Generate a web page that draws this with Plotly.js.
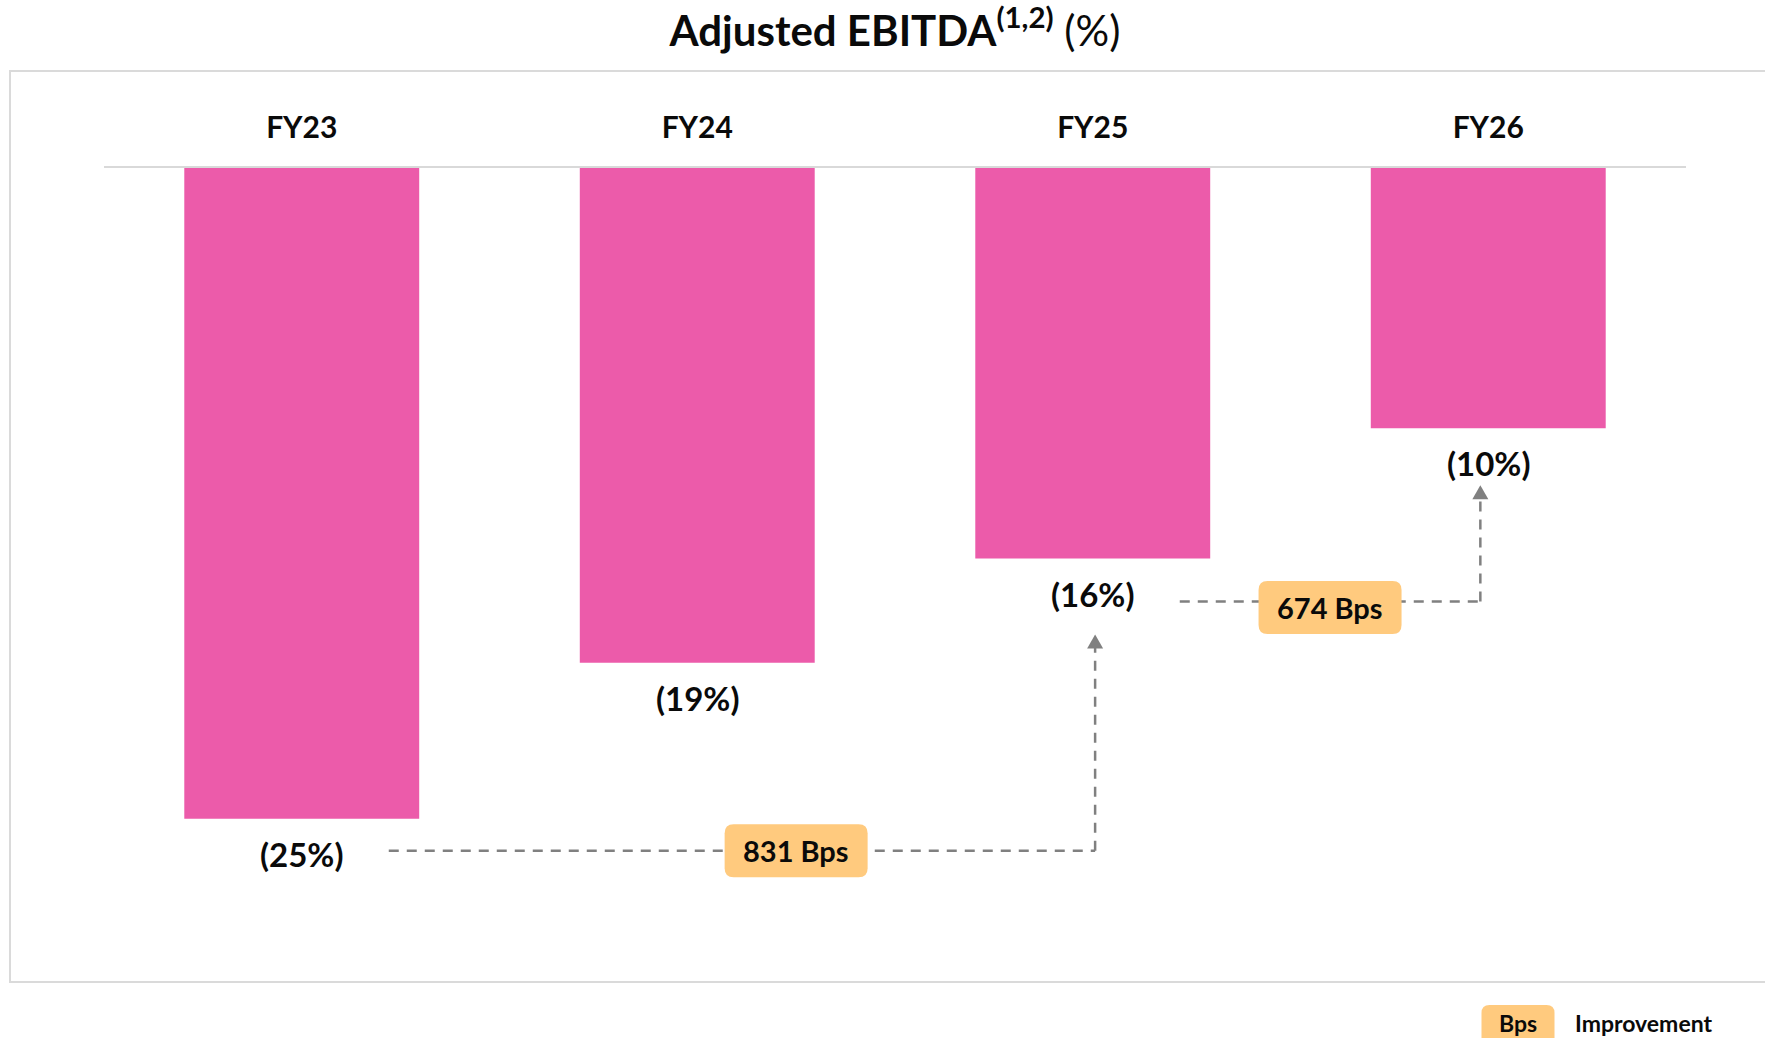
<!DOCTYPE html>
<html><head><meta charset="utf-8">
<script src="https://cdn.plot.ly/plotly-3.0.1.min.js"></script>
<style>html,body{margin:0;padding:0;background:#fff;}#chart{width:1765px;height:1038px;}</style>
</head><body><div id="chart"></div>
<script>
// ---- data ----
const categories = ['FY23', 'FY24', 'FY25', 'FY26'];
const marginValues = [-25.0, -19.0, -15.0, -10.0];
const valueLabels = ['(25%)', '(19%)', '(16%)', '(10%)'];
const improvementFrom = [0, 2];
const improvementTo = [2, 3];
const improvementBps = [831, 674];
const legendKey = 'Bps';
const legendText = 'Improvement';
const chartTitle = '<b>Adjusted EBITDA<sup>(1,2)</sup></b> (%)';

// ---- layout geometry / styles ----
const W = 1765, H = 1038, ML = 104, MR = 79, MT = 168, MB = 89;
const plotW = W - ML - MR, plotH = H - MT - MB;
const yMin = -30, yMax = 0;
const ppu = plotH / (yMax - yMin);
const pxToY = p => p / ppu;
const paperX = px => (px - ML) / plotW;
const paperY = py => (H - MB - py) / plotH;

const FONT = 'Lato, "Open Sans", sans-serif';
const BAR_COLOR = '#EC5BAA';
const DASH_COLOR = '#808080';
const BOX_COLOR = '#FFCA7E';
const TEXT_COLOR = '#0a0a0a';

// connector styling (pixel offsets relative to data points)
const connStyle = [
  {hOffsetPx: 32, xStart: 0.22, xEndDx: 0.006, tipPx: 76, boxDx: 1.25, boxDyPx: 0},
  {hOffsetPx: 43, xStart: 0.22, xEndDx: -0.02, tipPx: 57, boxDx: 0.6, boxDyPx: -6}
];

function roundRect(w, h, r, cx, cy) {
  const l = cx - w / 2, rr = cx + w / 2, b = cy - h / 2, t = cy + h / 2;
  return `M ${l + r},${b} L ${rr - r},${b} Q ${rr},${b} ${rr},${b + r} L ${rr},${t - r} Q ${rr},${t} ${rr - r},${t} ` +
         `L ${l + r},${t} Q ${l},${t} ${l},${t - r} L ${l},${b + r} Q ${l},${b} ${l + r},${b} Z`;
}

const shapes = [];
const annotations = [];

// outer frame
shapes.push({
  type: 'rect', xref: 'paper', yref: 'paper', layer: 'below',
  x0: paperX(10), x1: paperX(1800), y0: paperY(982), y1: paperY(71),
  line: {color: '#dadada', width: 2}, fillcolor: 'rgba(0,0,0,0)'
});

// value labels under bars
categories.forEach((c, i) => {
  annotations.push({
    x: c, y: marginValues[i], xref: 'x', yref: 'y',
    text: valueLabels[i], showarrow: false, yanchor: 'middle', yshift: -35,
    font: {family: FONT, size: 33, color: TEXT_COLOR, weight: 'bold'}
  });
});

// improvement connectors
improvementFrom.forEach((f, k) => {
  const t = improvementTo[k];
  const st = connStyle[k];
  const xe = t + st.xEndDx;
  const hy = marginValues[f] - pxToY(st.hOffsetPx);
  const tipY = marginValues[t] - pxToY(st.tipPx);
  shapes.push({type: 'line', xref: 'x', yref: 'y', x0: f + st.xStart, x1: xe, y0: hy, y1: hy,
    line: {color: DASH_COLOR, width: 2.5, dash: '10px,8px'}});
  shapes.push({type: 'line', xref: 'x', yref: 'y', x0: xe, x1: xe, y0: hy, y1: tipY - pxToY(12),
    line: {color: DASH_COLOR, width: 2.5, dash: '10px,8px'}});
  shapes.push({type: 'path', xref: 'x', yref: 'y', xsizemode: 'pixel', ysizemode: 'pixel',
    xanchor: xe, yanchor: tipY, path: 'M -8,-14 L 8,-14 L 0,0 Z',
    fillcolor: DASH_COLOR, line: {width: 0}});
  shapes.push({type: 'path', xref: 'x', yref: 'y', xsizemode: 'pixel', ysizemode: 'pixel',
    xanchor: f + st.boxDx, yanchor: hy, path: roundRect(143, 53, 9, 0, st.boxDyPx),
    fillcolor: BOX_COLOR, line: {width: 0}});
  annotations.push({x: f + st.boxDx, y: hy, xref: 'x', yref: 'y', showarrow: false,
    text: improvementBps[k] + ' Bps', yanchor: 'middle', yshift: st.boxDyPx,
    font: {family: FONT, size: 29, color: TEXT_COLOR, weight: 'bold'}});
});

// legend
shapes.push({type: 'path', xref: 'paper', yref: 'paper', xsizemode: 'pixel', ysizemode: 'pixel',
  xanchor: paperX(1518), yanchor: paperY(1026), path: roundRect(73, 42, 8, 0, 0),
  fillcolor: BOX_COLOR, line: {width: 0}});
annotations.push({x: paperX(1518), y: paperY(1023), xref: 'paper', yref: 'paper', showarrow: false,
  text: legendKey, xanchor: 'center', yanchor: 'middle',
  font: {family: FONT, size: 23, color: TEXT_COLOR, weight: 'bold'}});
annotations.push({x: paperX(1573), y: paperY(1023), xref: 'paper', yref: 'paper', showarrow: false,
  text: legendText, xanchor: 'left', yanchor: 'middle',
  font: {family: FONT, size: 23, color: TEXT_COLOR, weight: 'bold'}});

const data = [{
  type: 'bar', x: categories, y: marginValues,
  marker: {color: BAR_COLOR, line: {width: 0}},
  hoverinfo: 'skip', showlegend: false
}];

const layout = {
  width: W, height: H,
  margin: {l: ML, r: MR, t: MT, b: MB, pad: 0},
  paper_bgcolor: '#ffffff', plot_bgcolor: '#ffffff',
  bargap: 0.406,
  showlegend: false,
  title: {
    text: chartTitle, xref: 'container', yref: 'container',
    x: 895 / W, xanchor: 'center', y: 1 - 31 / H, yanchor: 'middle',
    font: {family: FONT, size: 42, color: TEXT_COLOR}
  },
  xaxis: {
    type: 'category', side: 'top', range: [-0.5, 3.5],
    showline: true, linecolor: '#d9d9d9', linewidth: 2,
    showgrid: false, zeroline: false, ticks: '', ticklabelstandoff: 16,
    tickfont: {family: FONT, size: 30, color: TEXT_COLOR, weight: 'bold'},
    fixedrange: true
  },
  yaxis: {
    range: [yMin, yMax], visible: false, showgrid: false, zeroline: false, fixedrange: true
  },
  shapes: shapes,
  annotations: annotations
};

Plotly.newPlot('chart', data, layout, {displayModeBar: false, staticPlot: true});
</script>
</body></html>
